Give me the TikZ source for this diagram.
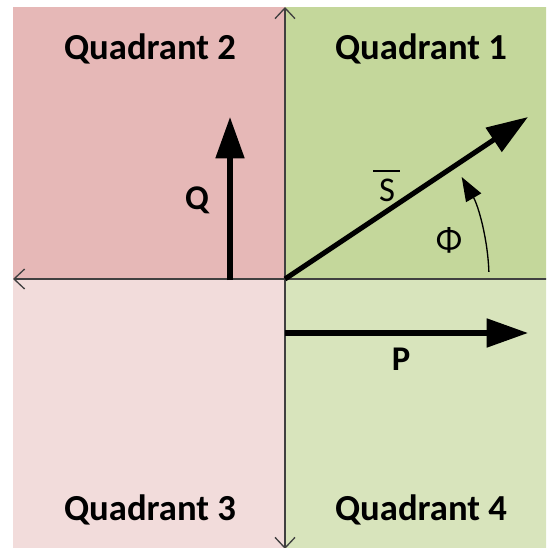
\documentclass[tikz,border=0pt]{standalone}
\usepackage{fontspec}
\setmainfont{Carlito}
\usetikzlibrary{arrows.meta,calc}
\definecolor{qone}{HTML}{C4D79B}
\definecolor{qtwo}{HTML}{E6B8B7}
\definecolor{qthree}{HTML}{F2DCDB}
\definecolor{qfour}{HTML}{D8E4BC}
\definecolor{axisgray}{HTML}{404040}
\tikzset{
  quadlabel/.style={font=\bfseries\fontsize{27.5}{30}\selectfont, text=black, inner sep=0pt},
  veclabel/.style={font=\bfseries\fontsize{26}{28}\selectfont, text=black, inner sep=0pt},
  plainlabel/.style={font=\fontsize{26}{28}\selectfont, text=black, inner sep=0pt},
  axisline/.style={draw=axisgray, line width=1pt, {Straight Barb[length=8pt,width=15pt]}-{Straight Barb[length=8pt,width=15pt]}},
  bigvec/.style={draw=black, line width=3.8pt, -{Triangle[length=31pt,width=21pt]}},
  anglearc/.style={draw=black, line width=1pt, -{Triangle[length=18pt,width=13pt]}}
}
\begin{document}
\begin{tikzpicture}[x=0.75pt,y=-0.75pt]
\useasboundingbox (0,0) rectangle (546,548);
\clip (0,0) rectangle (546,548);
\fill[white] (0,0) rectangle (546,548);
% quadrants
\fill[qtwo] (13,7) rectangle (285,279);
\fill[qone] (285,7) rectangle (560,279);
\fill[qthree] (13,279) rectangle (285,560);
\fill[qfour] (285,279) rectangle (560,560);
% coordinates
\coordinate (O) at (285,279);
\coordinate (top) at (285,7);
\coordinate (bottom) at (285,549);
\coordinate (left) at (13,279);
\coordinate (right) at (566,279);
% axes
\draw[axisline] (left) -- (right);
\draw[axisline] (top) -- (bottom);
% labels
\node[quadlabel] (q2) at (150,49) {Quadrant 2};
\node[quadlabel] (q1) at (421,49) {Quadrant 1};
\node[quadlabel] (q3) at (150,510) {Quadrant 3};
\node[quadlabel] (q4) at (421,510) {Quadrant 4};
% vectors
\coordinate (Qbase) at (230,280);
\coordinate (Qtip) at (230,117);
\coordinate (Stip) at (528,117);
\coordinate (Pbase) at (285,333);
\coordinate (Ptip) at (528,333);
\draw[bigvec] (Qbase) -- (Qtip);
\draw[bigvec] (O) -- (Stip);
\draw[bigvec] (Pbase) -- (Ptip);
\node[veclabel] (Qlab) at (197,200) {Q};
\node[veclabel] (Plab) at (401,359) {P};
\node[plainlabel] (Slab) at (387,190) {S};
\draw[black, line width=1pt] (373,171) -- (400,171);
\node[plainlabel] (philab) at (449,240) {Φ};
% angle arc
\coordinate (arcstart) at ($(O)+(-2:204)$);
\draw[anglearc] (arcstart) arc[start angle=-2, end angle=-30, radius=204];
\end{tikzpicture}
\end{document}
